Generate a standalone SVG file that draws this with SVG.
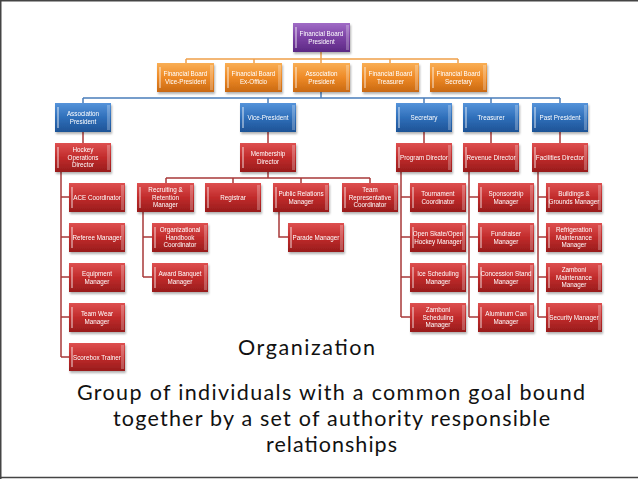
<svg xmlns="http://www.w3.org/2000/svg" width="638" height="479" viewBox="0 0 638 479">
<defs>
<linearGradient id="gp" x1="0" y1="0" x2="0" y2="1"><stop offset="0" stop-color="#A06CC6"/><stop offset="0.5" stop-color="#7C42A4"/><stop offset="1" stop-color="#5C2884"/></linearGradient>
<linearGradient id="go" x1="0" y1="0" x2="0" y2="1"><stop offset="0" stop-color="#F9AE55"/><stop offset="0.5" stop-color="#EE8A26"/><stop offset="1" stop-color="#C96912"/></linearGradient>
<linearGradient id="gb" x1="0" y1="0" x2="0" y2="1"><stop offset="0" stop-color="#5593DA"/><stop offset="0.5" stop-color="#2F6FBA"/><stop offset="1" stop-color="#1E5396"/></linearGradient>
<linearGradient id="gr" x1="0" y1="0" x2="0" y2="1"><stop offset="0" stop-color="#DE5050"/><stop offset="0.5" stop-color="#C12B2B"/><stop offset="1" stop-color="#981C1C"/></linearGradient>
<filter id="sh" x="-20%" y="-20%" width="140%" height="150%"><feDropShadow dx="1" dy="2" stdDeviation="1.2" flood-color="#000" flood-opacity="0.3"/></filter>
</defs>
<style>
.bx{filter:url(#sh)}
.p{fill:url(#gp)}.o{fill:url(#go)}.b{fill:url(#gb)}.r{fill:url(#gr)}
.hl{stroke:#fff;stroke-opacity:0.55;stroke-width:1.5}
.rb{fill:#fff;fill-opacity:0.25}
.t{font-family:"Liberation Sans",Arial,sans-serif;font-size:6.3px;fill:#fff;text-anchor:middle}
.big{font-family:Lato,"Liberation Sans",sans-serif;font-size:21.5px;fill:#111}
.lo{stroke:#F0A04A;stroke-width:1.5;fill:none}
.lb{stroke:#4A7EBB;stroke-width:1.5;fill:none}
.lr{stroke:#A83838;stroke-width:1.5;fill:none}
</style>
<rect width="638" height="479" fill="#fff"/>
<path d="M0,0.75 H638 M0.75,0 V479 M0,477.5 H638" stroke="#444" stroke-width="1.5" fill="none"/>

<g id="connectors">
<path class="lo" d="M321,52 V59 M186,59 H458 M186,59 V63 M254,59 V63 M321,59 V63 M390,59 V63 M458,59 V63"/>
<path class="lb" d="M321,92 V98 M83,98 H560 M83,98 V103 M268,98 V103 M424,98 V103 M491,98 V103 M560,98 V103"/>
<path class="lr" d="M83,132 V143 M268,132 V143 M424,132 V143 M491,132 V143 M560,132 V143"/>
<path class="lr" d="M61,172 V357 M61,197 H69 M61,237 H69 M61,277 H69 M61,317 H69 M61,357 H69"/>
<path class="lr" d="M268,172 V178 M166,178 H370 M166,178 V183 M233,178 V183 M301,178 V183 M370,178 V183"/>
<path class="lr" d="M143,212 V277 M143,237 H152 M143,277 H152 M279,212 V237 H288"/>
<path class="lr" d="M401,172 V317 M401,197 H410 M401,237 H410 M401,277 H410 M401,317 H410"/>
<path class="lr" d="M469,172 V317 M469,197 H478 M469,237 H478 M469,277 H478 M469,317 H478"/>
<path class="lr" d="M538,172 V317 M538,197 H546 M538,237 H546 M538,277 H546 M538,317 H546"/>
</g>

<g id="fb-president" class="bx" transform="translate(293,23)"><rect class="p" width="57" height="29"/><line class="hl" x1="3" y1="4" x2="3" y2="25"/><rect class="rb" x="53" y="2" width="3" height="25"/><text class="t" x="28.5" y="12.5">Financial Board<tspan x="28.5" dy="8">President</tspan></text></g>

<g id="fb-vp" class="bx" transform="translate(157,63)"><rect class="o" width="57" height="29"/><line class="hl" x1="3" y1="4" x2="3" y2="25"/><rect class="rb" x="53" y="2" width="3" height="25"/><text class="t" x="28.5" y="12.5">Financial Board<tspan x="28.5" dy="8">Vice-President</tspan></text></g>
<g id="fb-exofficio" class="bx" transform="translate(225,63)"><rect class="o" width="57" height="29"/><line class="hl" x1="3" y1="4" x2="3" y2="25"/><rect class="rb" x="53" y="2" width="3" height="25"/><text class="t" x="28.5" y="12.5">Financial Board<tspan x="28.5" dy="8">Ex-Officio</tspan></text></g>
<g id="fb-assoc-president" class="bx" transform="translate(293,63)"><rect class="o" width="57" height="29"/><line class="hl" x1="3" y1="4" x2="3" y2="25"/><rect class="rb" x="53" y="2" width="3" height="25"/><text class="t" x="28.5" y="12.5">Association<tspan x="28.5" dy="8">President</tspan></text></g>
<g id="fb-treasurer" class="bx" transform="translate(362,63)"><rect class="o" width="57" height="29"/><line class="hl" x1="3" y1="4" x2="3" y2="25"/><rect class="rb" x="53" y="2" width="3" height="25"/><text class="t" x="28.5" y="12.5">Financial Board<tspan x="28.5" dy="8">Treasurer</tspan></text></g>
<g id="fb-secretary" class="bx" transform="translate(430,63)"><rect class="o" width="57" height="29"/><line class="hl" x1="3" y1="4" x2="3" y2="25"/><rect class="rb" x="53" y="2" width="3" height="25"/><text class="t" x="28.5" y="12.5">Financial Board<tspan x="28.5" dy="8">Secretary</tspan></text></g>

<g id="assoc-president" class="bx" transform="translate(55,103)"><rect class="b" width="56" height="29"/><line class="hl" x1="3" y1="4" x2="3" y2="25"/><rect class="rb" x="52" y="2" width="3" height="25"/><text class="t" x="28" y="12.5">Association<tspan x="28" dy="8">President</tspan></text></g>
<g id="vice-president" class="bx" transform="translate(240,103)"><rect class="b" width="56" height="29"/><line class="hl" x1="3" y1="4" x2="3" y2="25"/><rect class="rb" x="52" y="2" width="3" height="25"/><text class="t" x="28" y="17">Vice-President</text></g>
<g id="secretary" class="bx" transform="translate(396,103)"><rect class="b" width="56" height="29"/><line class="hl" x1="3" y1="4" x2="3" y2="25"/><rect class="rb" x="52" y="2" width="3" height="25"/><text class="t" x="28" y="17">Secretary</text></g>
<g id="treasurer" class="bx" transform="translate(463,103)"><rect class="b" width="56" height="29"/><line class="hl" x1="3" y1="4" x2="3" y2="25"/><rect class="rb" x="52" y="2" width="3" height="25"/><text class="t" x="28" y="17">Treasurer</text></g>
<g id="past-president" class="bx" transform="translate(532,103)"><rect class="b" width="56" height="29"/><line class="hl" x1="3" y1="4" x2="3" y2="25"/><rect class="rb" x="52" y="2" width="3" height="25"/><text class="t" x="28" y="17">Past President</text></g>

<g id="hockey-ops" class="bx" transform="translate(55,143)"><rect class="r" width="56" height="29"/><line class="hl" x1="3" y1="4" x2="3" y2="25"/><rect class="rb" x="52" y="2" width="3" height="25"/><text class="t" x="28" y="9">Hockey<tspan x="28" dy="7.5">Operations</tspan><tspan x="28" dy="7.5">Director</tspan></text></g>
<g id="membership-director" class="bx" transform="translate(240,143)"><rect class="r" width="56" height="29"/><line class="hl" x1="3" y1="4" x2="3" y2="25"/><rect class="rb" x="52" y="2" width="3" height="25"/><text class="t" x="28" y="12.5">Membership<tspan x="28" dy="8">Director</tspan></text></g>
<g id="program-director" class="bx" transform="translate(396,143)"><rect class="r" width="56" height="29"/><line class="hl" x1="3" y1="4" x2="3" y2="25"/><rect class="rb" x="52" y="2" width="3" height="25"/><text class="t" x="28" y="17">Program Director</text></g>
<g id="revenue-director" class="bx" transform="translate(463,143)"><rect class="r" width="56" height="29"/><line class="hl" x1="3" y1="4" x2="3" y2="25"/><rect class="rb" x="52" y="2" width="3" height="25"/><text class="t" x="28" y="17">Revenue Director</text></g>
<g id="facilities-director" class="bx" transform="translate(532,143)"><rect class="r" width="56" height="29"/><line class="hl" x1="3" y1="4" x2="3" y2="25"/><rect class="rb" x="52" y="2" width="3" height="25"/><text class="t" x="28" y="17">Facilities Director</text></g>

<g id="ace-coordinator" class="bx" transform="translate(69,183)"><rect class="r" width="56" height="29"/><line class="hl" x1="3" y1="4" x2="3" y2="25"/><rect class="rb" x="52" y="2" width="3" height="25"/><text class="t" x="28" y="17">ACE Coordinator</text></g>
<g id="referee-manager" class="bx" transform="translate(69,223)"><rect class="r" width="56" height="29"/><line class="hl" x1="3" y1="4" x2="3" y2="25"/><rect class="rb" x="52" y="2" width="3" height="25"/><text class="t" x="28" y="17">Referee Manager</text></g>
<g id="equipment-manager" class="bx" transform="translate(69,263)"><rect class="r" width="56" height="29"/><line class="hl" x1="3" y1="4" x2="3" y2="25"/><rect class="rb" x="52" y="2" width="3" height="25"/><text class="t" x="28" y="12.5">Equipment<tspan x="28" dy="8">Manager</tspan></text></g>
<g id="team-wear-manager" class="bx" transform="translate(69,303)"><rect class="r" width="56" height="29"/><line class="hl" x1="3" y1="4" x2="3" y2="25"/><rect class="rb" x="52" y="2" width="3" height="25"/><text class="t" x="28" y="12.5">Team Wear<tspan x="28" dy="8">Manager</tspan></text></g>
<g id="scorebox-trainer" class="bx" transform="translate(69,343)"><rect class="r" width="56" height="28"/><line class="hl" x1="3" y1="4" x2="3" y2="24"/><rect class="rb" x="52" y="2" width="3" height="24"/><text class="t" x="28" y="16.5">Scorebox Trainer</text></g>

<g id="recruiting" class="bx" transform="translate(137,183)"><rect class="r" width="57" height="29"/><line class="hl" x1="3" y1="4" x2="3" y2="25"/><rect class="rb" x="53" y="2" width="3" height="25"/><text class="t" x="28.5" y="9">Recruiting &amp;<tspan x="28.5" dy="7.5">Retention</tspan><tspan x="28.5" dy="7.5">Manager</tspan></text></g>
<g id="registrar" class="bx" transform="translate(205,183)"><rect class="r" width="56" height="29"/><line class="hl" x1="3" y1="4" x2="3" y2="25"/><rect class="rb" x="52" y="2" width="3" height="25"/><text class="t" x="28" y="17">Registrar</text></g>
<g id="public-relations" class="bx" transform="translate(273,183)"><rect class="r" width="56" height="29"/><line class="hl" x1="3" y1="4" x2="3" y2="25"/><rect class="rb" x="52" y="2" width="3" height="25"/><text class="t" x="28" y="12.5">Public Relations<tspan x="28" dy="8">Manager</tspan></text></g>
<g id="team-rep" class="bx" transform="translate(342,183)"><rect class="r" width="56" height="29"/><line class="hl" x1="3" y1="4" x2="3" y2="25"/><rect class="rb" x="52" y="2" width="3" height="25"/><text class="t" x="28" y="9">Team<tspan x="28" dy="7.5">Representative</tspan><tspan x="28" dy="7.5">Coordinator</tspan></text></g>

<g id="handbook" class="bx" transform="translate(152,223)"><rect class="r" width="56" height="29"/><line class="hl" x1="3" y1="4" x2="3" y2="25"/><rect class="rb" x="52" y="2" width="3" height="25"/><text class="t" x="28" y="9">Organizational<tspan x="28" dy="7.5">Handbook</tspan><tspan x="28" dy="7.5">Coordinator</tspan></text></g>
<g id="award-banquet" class="bx" transform="translate(152,263)"><rect class="r" width="56" height="29"/><line class="hl" x1="3" y1="4" x2="3" y2="25"/><rect class="rb" x="52" y="2" width="3" height="25"/><text class="t" x="28" y="12.5">Award Banquet<tspan x="28" dy="8">Manager</tspan></text></g>
<g id="parade-manager" class="bx" transform="translate(288,223)"><rect class="r" width="56" height="29"/><line class="hl" x1="3" y1="4" x2="3" y2="25"/><rect class="rb" x="52" y="2" width="3" height="25"/><text class="t" x="28" y="17">Parade Manager</text></g>

<g id="tournament" class="bx" transform="translate(410,183)"><rect class="r" width="56" height="29"/><line class="hl" x1="3" y1="4" x2="3" y2="25"/><rect class="rb" x="52" y="2" width="3" height="25"/><text class="t" x="28" y="12.5">Tournament<tspan x="28" dy="8">Coordinator</tspan></text></g>
<g id="open-skate" class="bx" transform="translate(410,223)"><rect class="r" width="56" height="29"/><line class="hl" x1="3" y1="4" x2="3" y2="25"/><rect class="rb" x="52" y="2" width="3" height="25"/><text class="t" x="28" y="12.5">Open Skate/Open<tspan x="28" dy="8">Hockey Manager</tspan></text></g>
<g id="ice-scheduling" class="bx" transform="translate(410,263)"><rect class="r" width="56" height="29"/><line class="hl" x1="3" y1="4" x2="3" y2="25"/><rect class="rb" x="52" y="2" width="3" height="25"/><text class="t" x="28" y="12.5">Ice Scheduling<tspan x="28" dy="8">Manager</tspan></text></g>
<g id="zamboni-scheduling" class="bx" transform="translate(410,303)"><rect class="r" width="56" height="29"/><line class="hl" x1="3" y1="4" x2="3" y2="25"/><rect class="rb" x="52" y="2" width="3" height="25"/><text class="t" x="28" y="9">Zamboni<tspan x="28" dy="7.5">Scheduling</tspan><tspan x="28" dy="7.5">Manager</tspan></text></g>

<g id="sponsorship" class="bx" transform="translate(478,183)"><rect class="r" width="56" height="29"/><line class="hl" x1="3" y1="4" x2="3" y2="25"/><rect class="rb" x="52" y="2" width="3" height="25"/><text class="t" x="28" y="12.5">Sponsorship<tspan x="28" dy="8">Manager</tspan></text></g>
<g id="fundraiser" class="bx" transform="translate(478,223)"><rect class="r" width="56" height="29"/><line class="hl" x1="3" y1="4" x2="3" y2="25"/><rect class="rb" x="52" y="2" width="3" height="25"/><text class="t" x="28" y="12.5">Fundraiser<tspan x="28" dy="8">Manager</tspan></text></g>
<g id="concession" class="bx" transform="translate(478,263)"><rect class="r" width="56" height="29"/><line class="hl" x1="3" y1="4" x2="3" y2="25"/><rect class="rb" x="52" y="2" width="3" height="25"/><text class="t" x="28" y="12.5">Concession Stand<tspan x="28" dy="8">Manager</tspan></text></g>
<g id="aluminum-can" class="bx" transform="translate(478,303)"><rect class="r" width="56" height="29"/><line class="hl" x1="3" y1="4" x2="3" y2="25"/><rect class="rb" x="52" y="2" width="3" height="25"/><text class="t" x="28" y="12.5">Aluminum Can<tspan x="28" dy="8">Manager</tspan></text></g>

<g id="buildings" class="bx" transform="translate(546,183)"><rect class="r" width="56" height="29"/><line class="hl" x1="3" y1="4" x2="3" y2="25"/><rect class="rb" x="52" y="2" width="3" height="25"/><text class="t" x="28" y="12.5">Buildings &amp;<tspan x="28" dy="8">Grounds Manager</tspan></text></g>
<g id="refrigeration" class="bx" transform="translate(546,223)"><rect class="r" width="56" height="29"/><line class="hl" x1="3" y1="4" x2="3" y2="25"/><rect class="rb" x="52" y="2" width="3" height="25"/><text class="t" x="28" y="9">Refrigeration<tspan x="28" dy="7.5">Maintenance</tspan><tspan x="28" dy="7.5">Manager</tspan></text></g>
<g id="zamboni-maintenance" class="bx" transform="translate(546,263)"><rect class="r" width="56" height="29"/><line class="hl" x1="3" y1="4" x2="3" y2="25"/><rect class="rb" x="52" y="2" width="3" height="25"/><text class="t" x="28" y="9">Zamboni<tspan x="28" dy="7.5">Maintenance</tspan><tspan x="28" dy="7.5">Manager</tspan></text></g>
<g id="security" class="bx" transform="translate(546,303)"><rect class="r" width="56" height="29"/><line class="hl" x1="3" y1="4" x2="3" y2="25"/><rect class="rb" x="52" y="2" width="3" height="25"/><text class="t" x="28" y="17">Security Manager</text></g>

<g id="caption">
<text class="big" x="238" y="355" textLength="137">Organization</text>
<text class="big" x="77" y="400" textLength="508">Group of individuals with a common goal bound</text>
<text class="big" x="113" y="426" textLength="437">together by a set of authority responsible</text>
<text class="big" x="266" y="452" textLength="131">relationships</text>
</g>
</svg>
